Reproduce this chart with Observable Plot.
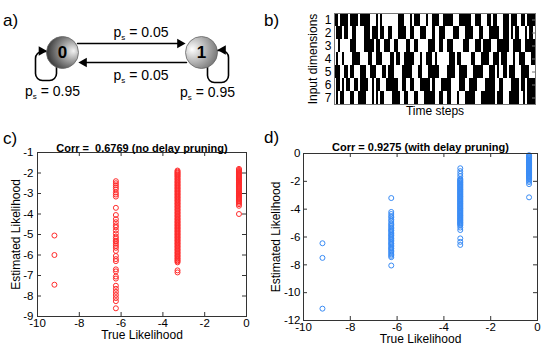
<!DOCTYPE html>
<html><head><meta charset="utf-8">
<script src="https://cdn.jsdelivr.net/npm/d3@7"></script>
<script src="https://cdn.jsdelivr.net/npm/@observablehq/plot@0.6"></script>
<style>
body{margin:0;background:#fff;}
#fig{position:relative;width:543px;height:350px;overflow:hidden;background:#fff;font-family:"Liberation Sans",Arial,Helvetica,sans-serif;}
#fig > svg{position:absolute;}
.plab{position:absolute;font-size:17px;line-height:17px;color:#000;}
</style></head><body><div id="fig"></div>
<script>
// ---------- data ----------
const panelLetters = ["a)", "b)", "c)", "d)"];
const stateNames = ["0", "1"];
const transitionLabels = ["p_s = 0.05", "p_s = 0.05"];   // 0->1 (top), 1->0 (bottom)
const selfLoopLabels = ["p_s = 0.95", "p_s = 0.95"];

const rowLabels = [1, 2, 3, 4, 5, 6, 7];
const rasterRows = [
  "1101111011" + "1101111100" + "0101000000" + "0011100010" + "1110001001" + "1100111110" + "0011111100" + "1110001101" + "1000111011" + "1001101111",
  "0111011001" + "1000011101" + "1101100110" + "0011110011" + "0001110001" + "0011100001" + "1100011110" + "0011000111" + "1100111010" + "1100010110",
  "0010000011" + "1000011111" + "0110011100" + "1100001100" + "1100000111" + "0011001110" + "0000111000" + "1110111100" + "0111111001" + "1110011111",
  "0100100001" + "1110000110" + "0111000011" + "0110011111" + "0001001110" + "1000000111" + "0110000011" + "0001111001" + "1101110001" + "0011100011",
  "1110011011" + "0001110011" + "1000110111" + "0000111110" + "0011000111" + "1100001111" + "0011110001" + "1111000111" + "0100110111" + "0001111000",
  "0110101100" + "1101111001" + "0110001111" + "1100110011" + "0001111101" + "0001111100" + "0011100111" + "1000011111" + "0011000011" + "1101101111",
  "0101100011" + "0011110001" + "0101100001" + "1110011000" + "1100011111" + "0011001100" + "0100011111" + "0001111111" + "0111000111" + "1100101111"
];
const bXLabel = "Time steps";
const bYLabel = "Input dimensions";

const trueLevels = [-9.19, -6.25, -3.30, -0.36];
const xTickValues = [-10, -8, -6, -4, -2, 0];
const cYTicks = [-9, -8, -7, -6, -5, -4, -3, -2, -1];
const dYTicks = [-12, -10, -8, -6, -4, -2, 0];
const xLabel = "True Likelihood";
const yLabel = "Estimated Likelihood";
const cTitle = "Corr =  0.6769 (no delay pruning)";
const dTitle = "Corr = 0.9275 (with delay pruning)";

// estimated likelihoods, panel c (no delay pruning), one list per true level
const cEst0 = [-5.05, -6.0, -7.45];
const cEst1 = [-2.4, -2.5, -2.6, -2.7, -2.8, -2.95, -3.05, -3.15, -3.7, -4.05, -4.25, -4.4, -4.55, -4.65, -4.8, -4.95, -5.1, -5.2, -5.3, -5.35, -5.45, -5.55, -5.65, -5.8, -6.05, -6.2, -6.3, -6.7, -6.8, -7.05, -7.15, -7.5, -7.65, -7.8, -7.95, -8.1, -8.25, -8.6];
const cEst2 = [-1.88, -1.93, -1.98, -2.02, -2.07, -2.11, -2.16, -2.2, -2.26, -2.3, -2.35, -2.41, -2.45, -2.5, -2.56, -2.6, -2.65, -2.71, -2.75, -2.8, -2.86, -2.9, -2.95, -3.01, -3.05, -3.1, -3.16, -3.2, -3.25, -3.31, -3.35, -3.4, -3.46, -3.5, -3.55, -3.61, -3.65, -3.7, -3.76, -3.8, -3.85, -3.91, -3.95, -4.0, -4.06, -4.1, -4.15, -4.21, -4.25, -4.3, -4.36, -4.4, -4.45, -4.51, -4.55, -4.6, -4.66, -4.7, -4.75, -4.81, -4.85, -4.9, -4.96, -5.0, -5.05, -5.11, -5.15, -5.2, -5.26, -5.3, -5.35, -5.41, -5.45, -5.5, -5.56, -5.6, -5.65, -5.71, -5.75, -5.8, -5.86, -5.9, -5.95, -6.01, -6.05, -6.1, -6.16, -6.2, -6.26, -6.3, -6.36, -6.75, -6.85];
const cEst3 = [-1.8, -1.85, -1.9, -1.94, -1.99, -2.03, -2.08, -2.12, -2.17, -2.21, -2.26, -2.3, -2.35, -2.39, -2.44, -2.48, -2.53, -2.57, -2.62, -2.66, -2.71, -2.75, -2.8, -2.84, -2.89, -2.93, -2.98, -3.02, -3.07, -3.11, -3.16, -3.2, -3.25, -3.29, -3.34, -3.39, -3.45, -3.52, -3.6, -4.0];

// estimated likelihoods, panel d (with delay pruning)
const dEst0 = [-6.45, -7.5, -11.15];
const dEst1 = [-3.2, -4.2, -4.35, -4.5, -4.6, -4.75, -4.85, -5.0, -5.1, -5.2, -5.3, -5.4, -5.5, -5.55, -5.65, -5.75, -5.85, -5.9, -6.0, -6.1, -6.15, -6.25, -6.35, -6.45, -6.5, -6.6, -6.7, -6.8, -6.85, -6.95, -7.05, -7.15, -7.25, -7.35, -7.45, -8.05];
const dEst2 = [-1.06, -1.27, -1.46, -1.63, -1.82, -1.88, -1.93, -1.99, -2.05, -2.1, -2.16, -2.22, -2.27, -2.33, -2.39, -2.44, -2.5, -2.56, -2.61, -2.67, -2.73, -2.78, -2.84, -2.9, -2.95, -3.01, -3.07, -3.12, -3.18, -3.24, -3.29, -3.35, -3.41, -3.46, -3.52, -3.58, -3.63, -3.69, -3.75, -3.8, -3.86, -3.92, -3.97, -4.03, -4.09, -4.14, -4.2, -4.26, -4.31, -4.37, -4.43, -4.48, -4.54, -4.6, -4.65, -4.71, -4.77, -4.82, -4.88, -4.94, -4.99, -5.05, -5.11, -5.18, -5.32, -5.5, -6.1, -6.35, -6.57];
const dEst3 = [-0.12, -0.17, -0.22, -0.27, -0.32, -0.37, -0.42, -0.47, -0.52, -0.57, -0.62, -0.67, -0.72, -0.77, -0.82, -0.87, -0.92, -0.97, -1.02, -1.07, -1.12, -1.17, -1.22, -1.27, -1.32, -1.37, -1.42, -1.47, -1.52, -1.57, -1.62, -1.67, -1.72, -1.78, -1.85, -1.95, -2.05, -2.2, -3.15];

// ---------- rendering ----------
const FONT = "'Liberation Sans', Arial, Helvetica, sans-serif";
const fig = document.getElementById("fig");
function place(el, left, top) { el.style.left = left + "px"; el.style.top = top + "px"; fig.appendChild(el); }
const baseStyle = {fontFamily: FONT, fontSize: "12px", color: "#000", background: "transparent", overflow: "visible"};

// ---- panel a: two-state Markov chain ----
(function () {
  const nodes = stateNames.map((name, i) => ({name, i}));
  const transitions = [
    {from: 0, to: 1, label: transitionLabels[0]},
    {from: 1, to: 0, label: transitionLabels[1]}
  ];
  const loopSymbol = (w, h, rr) => ({
    draw(ctx) {
      const x0 = -w / 2, y0 = -h / 2, x1 = w / 2, y1 = h / 2;
      ctx.moveTo(x0 + rr, y0); ctx.lineTo(x1 - rr, y0); ctx.arcTo(x1, y0, x1, y0 + rr, rr);
      ctx.lineTo(x1, y1 - rr); ctx.arcTo(x1, y1, x1 - rr, y1, rr);
      ctx.lineTo(x0 + rr, y1); ctx.arcTo(x0, y1, x0, y1 - rr, rr);
      ctx.lineTo(x0, y0 + rr); ctx.arcTo(x0, y0, x0 + rr, y0, rr); ctx.closePath();
    }
  });
  const zero = () => 0;
  const svg = Plot.plot({
    width: 270, height: 120, marginLeft: 62, marginRight: 69, marginTop: 0, marginBottom: 16,
    style: baseStyle,
    x: {domain: [0, 1], axis: null},
    y: {domain: [-1, 1], axis: null},
    color: {type: "identity"},
    marks: [
      Plot.dot([nodes[0]], {x: "i", y: zero, symbol: loopSymbol(21, 29, 7), dx: -16.5, dy: 13.5, stroke: "#000", strokeWidth: 1.6, fill: "none"}),
      Plot.dot([nodes[1]], {x: "i", y: zero, symbol: loopSymbol(21, 32, 7), dx: 16.5, dy: 14, stroke: "#000", strokeWidth: 1.6, fill: "none"}),
      Plot.arrow([transitions[0]], {x1: "from", x2: "to", y1: zero, y2: zero, dy: -9, insetStart: 15, insetEnd: 20, headLength: 0, stroke: "#000", strokeWidth: 1.5}),
      Plot.arrow([transitions[1]], {x1: "from", x2: "to", y1: zero, y2: zero, dy: 10, insetStart: 15, insetEnd: 20, headLength: 0, stroke: "#000", strokeWidth: 1.5}),
      Plot.dot([transitions[0]], {x: "to", y: zero, symbol: "triangle", r: 3.6, rotate: 90, dx: -21.5, dy: -9, fill: "#000"}),
      Plot.dot([transitions[1]], {x: "to", y: zero, symbol: "triangle", r: 3.6, rotate: -90, dx: 21.5, dy: 10, fill: "#000"}),
      Plot.dot([nodes[0]], {x: "i", y: zero, symbol: "triangle", r: 3.6, rotate: 90, dx: -21, dy: -1.5, fill: "#000"}),
      Plot.dot([nodes[1]], {x: "i", y: zero, symbol: "triangle", r: 3.6, rotate: -90, dx: 21.5, dy: -2.5, fill: "#000"}),
      Plot.dot(nodes, {x: "i", y: zero, r: 16, fill: d => `url(#stateGrad${d.i})`, stroke: "#666", strokeWidth: 0.8}),
      Plot.text(nodes, {x: "i", y: zero, text: "name", fontWeight: "bold", fontSize: 17, fill: "#000"}),
      Plot.text([transitions[0]], {x: d => (d.from + d.to) / 2, y: zero, text: "label", dx: 9, dy: -20, fontSize: 14, fill: "#000"}),
      Plot.text([transitions[1]], {x: d => (d.from + d.to) / 2, y: zero, text: "label", dx: 9, dy: 23, fontSize: 14, fill: "#000"}),
      Plot.text([{i: 0, label: selfLoopLabels[0]}], {x: "i", y: zero, text: "label", dx: -10, dy: 39, fontSize: 14, fill: "#000"}),
      Plot.text([{i: 1, label: selfLoopLabels[1]}], {x: "i", y: zero, text: "label", dx: 6, dy: 40, fontSize: 14, fill: "#000"})
    ]
  });
  const defs = d3.select(svg).insert("defs", ":first-child");
  const g0 = defs.append("radialGradient").attr("id", "stateGrad0").attr("cx", 0.7).attr("cy", 0.45).attr("r", 0.75).attr("fx", 0.85).attr("fy", 0.45);
  g0.append("stop").attr("offset", "0%").attr("stop-color", "#f2f2f2");
  g0.append("stop").attr("offset", "100%").attr("stop-color", "#2a2a2a");
  const g1 = defs.append("radialGradient").attr("id", "stateGrad1").attr("cx", 0.3).attr("cy", 0.4).attr("r", 0.8).attr("fx", 0.2).attr("fy", 0.4);
  g1.append("stop").attr("offset", "0%").attr("stop-color", "#ffffff");
  g1.append("stop").attr("offset", "100%").attr("stop-color", "#6a6a6a");
  // subscript "s" in p_s
  svg.querySelectorAll("text").forEach(t => {
    const s = t.textContent;
    if (s.startsWith("p_s")) {
      t.textContent = "";
      t.appendChild(document.createTextNode("p"));
      const sub = document.createElementNS("http://www.w3.org/2000/svg", "tspan");
      sub.setAttribute("font-size", "8"); sub.setAttribute("dy", "3"); sub.textContent = "s";
      const rest = document.createElementNS("http://www.w3.org/2000/svg", "tspan");
      rest.setAttribute("dy", "-3"); rest.textContent = s.slice(3);
      t.appendChild(sub); t.appendChild(rest);
    }
  });
  place(svg, 0, 0);
})();

// ---- panel b: binary input raster ----
(function () {
  const runs = [];
  rasterRows.forEach((s, i) => {
    let start = -1;
    for (let t = 0; t <= s.length; t++) {
      const on = s[t] === "1";
      if (on && start < 0) start = t;
      if (!on && start >= 0) { runs.push({row: rowLabels[i], x1: start, x2: t}); start = -1; }
    }
  });
  const W = 273, H = 125, ml = 64, mr = 8, mt = 13, mb = 21;
  const iw = W - ml - mr;
  const svg = Plot.plot({
    width: W, height: H, marginLeft: ml, marginRight: mr, marginTop: mt, marginBottom: mb,
    style: baseStyle,
    x: {domain: [0, rasterRows[0].length], axis: null},
    y: {domain: rowLabels, padding: 0, axis: null},
    marks: [
      Plot.barX(runs, {x1: "x1", x2: "x2", y: "row", fill: "#000", shapeRendering: "crispEdges"}),
      Plot.frame({stroke: "#777"}),
      Plot.tickY(rowLabels, {y: d => d, insetLeft: iw - 3, stroke: "#777"}),
      Plot.axisY(rowLabels, {anchor: "left", tickSize: 0, tickPadding: 3, label: null, fontSize: 12}),
      Plot.text([bXLabel], {frameAnchor: "bottom", dy: 10, fontSize: 12, fill: "#000"}),
      Plot.text([bYLabel], {frameAnchor: "left", textAnchor: "middle", rotate: -90, dx: -21, fontSize: 12, fill: "#000"})
    ]
  });
  place(svg, 270, 0);
})();

// ---- panels c and d: scatter ----
function scatter(cfg) {
  const {width, height, ml, mr, mt, mb, yDomain, yTicks, est, color, title, titleDy, xlDy, ylDx, padX, padY} = cfg;
  const data = est.flatMap((arr, i) => arr.map(e => ({t: trueLevels[i], e})));
  const ih = height - mt - mb, iw = width - ml - mr;
  const fmt = d => String(d);
  return Plot.plot({
    width, height, marginLeft: ml, marginRight: mr, marginTop: mt, marginBottom: mb,
    style: baseStyle,
    x: {domain: [-10, 0], axis: null},
    y: {domain: yDomain, axis: null},
    marks: [
      Plot.dot(data, {x: "t", y: "e", r: 2.5, stroke: color, strokeWidth: 1, fill: "none"}),
      Plot.frame({stroke: "#333"}),
      Plot.tickX(xTickValues, {x: d => d, insetTop: ih - 4, stroke: "#333"}),
      Plot.tickX(xTickValues, {x: d => d, insetBottom: ih - 4, stroke: "#333"}),
      Plot.tickY(yTicks, {y: d => d, insetRight: iw - 4, stroke: "#333"}),
      Plot.tickY(yTicks, {y: d => d, insetLeft: iw - 4, stroke: "#333"}),
      Plot.axisX(xTickValues, {anchor: "bottom", tickSize: 0, tickPadding: padX, tickFormat: fmt, label: null, fontSize: 11.5}),
      Plot.axisY(yTicks, {anchor: "left", tickSize: 0, tickPadding: padY, tickFormat: fmt, label: null, fontSize: 11.5}),
      Plot.text([title], {frameAnchor: "top", dy: titleDy, fontWeight: "bold", fontSize: 11, fill: "#000"}),
      Plot.text([xLabel], {frameAnchor: "bottom", dy: xlDy, fontSize: 12, fill: "#000"}),
      Plot.text([yLabel], {frameAnchor: "left", textAnchor: "middle", rotate: -90, dx: ylDx, fontSize: 12, fill: "#000"})
    ]
  });
}

place(scatter({
  width: 270, height: 225, ml: 37, mr: 24, mt: 27, mb: 34,
  yDomain: [-9, -1], yTicks: cYTicks, est: [cEst0, cEst1, cEst2, cEst3],
  color: "#ff2b2b", title: cTitle, titleDy: -8, xlDy: 22.5, ylDx: -21, padX: 2, padY: 4
}), 0, 125);

place(scatter({
  width: 273, height: 225, ml: 33, mr: 6, mt: 28, mb: 30,
  yDomain: [-12, 0], yTicks: dYTicks, est: [dEst0, dEst1, dEst2, dEst3],
  color: "#3a8cf5", title: dTitle, titleDy: -10, xlDy: 22.5, ylDx: -27, padX: 2, padY: 3
}), 270, 125);

// panel letters
const letterPos = [[3, 12], [264, 12], [3, 130], [264, 129]];
panelLetters.forEach((t, i) => {
  const d = document.createElement("div");
  d.className = "plab"; d.textContent = t;
  place(d, letterPos[i][0], letterPos[i][1]);
});
</script></body></html>
